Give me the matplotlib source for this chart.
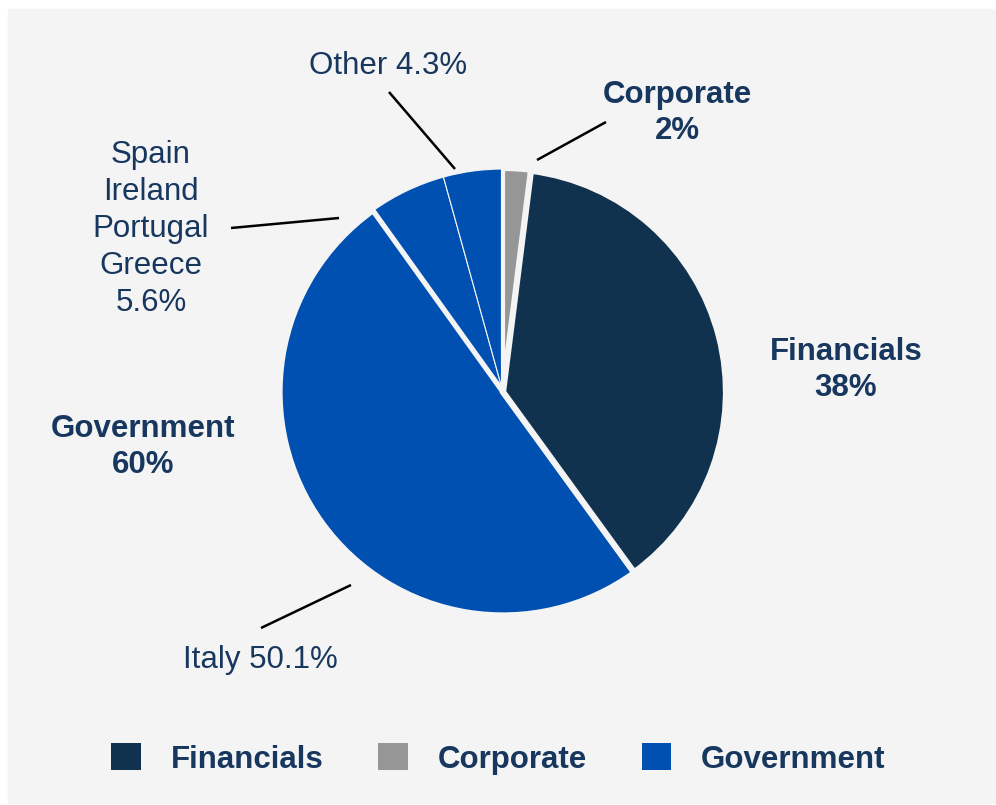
import matplotlib
matplotlib.use("Agg")
import matplotlib.pyplot as plt
from matplotlib.patches import Rectangle, Patch

plt.rcParams['font.family'] = ['Liberation Sans', 'DejaVu Sans']

# Portfolio split (percent), clockwise from 12 o'clock
slice_names = ["Corporate", "Financials", "Italy", "Spain Ireland Portugal Greece", "Other"]
slice_values = [2.0, 38.0, 50.1, 5.6, 4.3]
slice_colors = ["#969696", "#10324f", "#0050b2", "#0050b2", "#0050b2"]
edge_widths = [3.0, 4.5, 3.8, 0.8, 0.8]
edge_order = [2, 4, 3, 1, 1]

# Sector totals for the legend
sector_names = ["Financials", "Corporate", "Government"]
sector_values = [38, 2, 60]
sector_colors = ["#10324f", "#969696", "#0050b2"]

text_color = "#17375e"
panel_color = "#f4f4f4"

fig = plt.figure(figsize=(9.96, 8.05), dpi=100)
fig.patch.set_facecolor("white")
fig.patches.append(Rectangle((8 / 996, 2 / 805), 988 / 996, 794 / 805,
                             transform=fig.transFigure, color=panel_color, zorder=-1))

# axes in pixel units, y measured upward
ax = fig.add_axes([0, 0, 1, 1])
cx, cy, r = 503, 805 - 392, 223
wedges, _ = ax.pie(slice_values, colors=slice_colors, startangle=90, counterclock=False,
                   center=(cx, cy), radius=r, frame=True,
                   wedgeprops=dict(edgecolor=panel_color))
for w, lw, z in zip(wedges, edge_widths, edge_order):
    w.set_linewidth(lw)
    w.set_zorder(z)
ax.set_xlim(0, 996)
ax.set_ylim(0, 805)
ax.set_aspect("equal")
ax.axis("off")

fs = 22.5
fmt = lambda v: f"{v:g}%"

# leader lines (pixel coords, y from top)
def leader(x0, y0, x1, y1):
    ax.plot([x0, x1], [805 - y0, 805 - y1], color="black", lw=1.8,
            solid_capstyle="butt", zorder=5)

leader(389, 92, 455, 169)
leader(606, 122, 537, 160)
leader(231, 228, 339, 218)
leader(261, 628, 351, 585)

def label(x, y, s, bold=False, ls=1.25):
    ax.text(x, 805 - y, s, ha="center", va="center", fontsize=fs, color=text_color,
            fontweight="bold" if bold else "normal", linespacing=ls)

label(388, 66, f"Other {fmt(slice_values[4])}")
label(677, 113, f"Corporate\n{fmt(sector_values[1])}", bold=True, ls=1.22)
label(846, 370, f"Financials\n{fmt(sector_values[0])}", bold=True, ls=1.22)
label(143, 447, f"Government\n{fmt(sector_values[2])}", bold=True, ls=1.22)
label(151, 229, "Spain\nIreland\nPortugal\nGreece\n" + fmt(slice_values[3]), ls=1.3)
label(260, 660, f"Italy {fmt(slice_values[2])}")

handles = [Patch(facecolor=c, edgecolor="none") for c in sector_colors]
leg = fig.legend(handles, sector_names, loc="center", bbox_to_anchor=(0.5005, 1 - 759 / 805),
                 ncol=3, frameon=False, handlelength=0.95, handleheight=0.95,
                 handletextpad=0.95, columnspacing=1.75,
                 prop=dict(size=fs, weight="bold"))
for t in leg.get_texts():
    t.set_color(text_color)

fig.savefig("out.png", dpi=100, facecolor=fig.get_facecolor())
